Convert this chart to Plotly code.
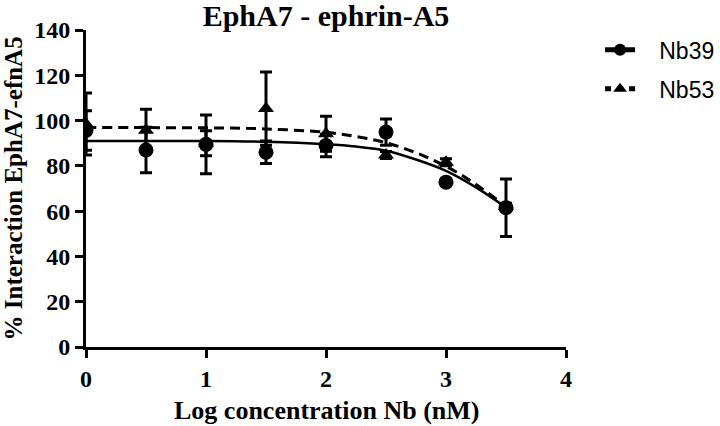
import plotly.graph_objects as go

# Measured points (log concentration Nb, nM)
log_conc = [0, 0.5, 1, 1.5, 2, 2.5, 3, 3.5]
nb39_mean = [95.6, 87.0, 89.5, 86.0, 89.0, 94.9, 72.8, 61.5]
nb39_err = [8.7, 10.0, 13.0, 5.0, 5.0, 5.8, 1.5, 12.7]
nb53_mean = [98.5, 95.7, 90.0, 105.3, 94.2, 84.8, 81.6, 62.0]
nb53_err = [13.7, 9.3, 5.5, 16.2, 7.7, 1.5, 1.5, 1.5]

# Fitted dose-response curves
fit_x = [0, 0.5, 1, 1.5, 2, 2.25, 2.5, 2.75, 3, 3.25, 3.5]
nb39_fit = [91.0, 91.0, 91.0, 90.6, 89.5, 88.5, 86.7, 82.8, 77.8, 70.5, 61.6]
nb53_fit = [97.0, 96.9, 96.8, 96.3, 94.8, 93.0, 90.2, 85.8, 79.8, 71.8, 62.0]

x_ticks = [0, 1, 2, 3, 4]
y_ticks = [0, 20, 40, 60, 80, 100, 120, 140]

serif = "Liberation Serif"
fig = go.Figure()

# fitted curves
fig.add_trace(go.Scatter(x=fit_x, y=nb53_fit, mode="lines", line_shape="spline",
                         line=dict(color="black", width=3, dash="10px,6px"),
                         showlegend=False, hoverinfo="skip"))
fig.add_trace(go.Scatter(x=fit_x, y=nb39_fit, mode="lines", line_shape="spline",
                         line=dict(color="black", width=2.5),
                         showlegend=False, hoverinfo="skip"))

# data points with error bars
fig.add_trace(go.Scatter(x=log_conc, y=nb53_mean, mode="markers",
                         marker=dict(symbol="triangle-up", size=14, color="black"),
                         error_y=dict(type="data", array=nb53_err, color="black",
                                      thickness=3, width=6),
                         showlegend=False))
fig.add_trace(go.Scatter(x=log_conc, y=nb39_mean, mode="markers",
                         marker=dict(symbol="circle", size=15, color="black"),
                         error_y=dict(type="data", array=nb39_err, color="black",
                                      thickness=3, width=6),
                         showlegend=False))

# legend entries
nb = "\u00a0\u00a0\u00a0"
fig.add_trace(go.Scatter(x=[None], y=[None], mode="lines+markers", name=nb + "Nb39",
                         legendgroup="a",
                         line=dict(color="black", width=3),
                         marker=dict(symbol="circle", size=14, color="black")))
fig.add_trace(go.Scatter(x=[None], y=[None], mode="lines+markers", name=nb + "Nb53",
                         legendgroup="b",
                         line=dict(color="black", width=3, dash="6px,6px"),
                         marker=dict(symbol="triangle-up", size=13, color="black")))

fig.update_layout(
    width=720, height=426,
    margin=dict(l=86, r=154, t=30, b=79, autoexpand=False),
    plot_bgcolor="white", paper_bgcolor="white",
    title=dict(text="<b>EphA7 - ephrin-A5</b>", x=326 / 720, xanchor="center",
               y=1 - 15 / 426, yanchor="middle",
               font=dict(family=serif, size=30, color="black")),
    legend=dict(x=1.071, y=1.005, xanchor="left", yanchor="top",
                font=dict(family="Liberation Sans", size=23, color="black"),
                tracegroupgap=6, itemsizing="constant"),
    xaxis=dict(range=[0, 4], tickvals=x_ticks, ticktext=[f"<b>{v}</b>" for v in x_ticks],
               showgrid=False, zeroline=False, showline=True, linecolor="black",
               linewidth=3, ticks="outside", ticklen=8, tickwidth=3, tickcolor="black",
               automargin=False,
               tickfont=dict(family=serif, size=24, color="black")),
    yaxis=dict(range=[0, 140], tickvals=y_ticks, ticktext=[f"<b>{v}</b>" for v in y_ticks],
               showgrid=False, zeroline=False, showline=True, linecolor="black",
               linewidth=3, ticks="outside", ticklen=8, tickwidth=3, tickcolor="black",
               automargin=False,
               tickfont=dict(family=serif, size=24, color="black")),
    annotations=[
        dict(text="<b>Log concentration Nb (nM)</b>", xref="paper", yref="paper",
             x=0.5, y=-63 / 317, xanchor="center", yanchor="middle", showarrow=False,
             font=dict(family=serif, size=26, color="black")),
        dict(text="<b>% Interaction EphA7-efnA5</b>", xref="paper", yref="paper",
             x=-73 / 480, y=0.5, xanchor="center", yanchor="middle", showarrow=False,
             textangle=-90, font=dict(family=serif, size=25, color="black")),
    ],
)

fig.write_html("out.html", config={"displayModeBar": False},
               post_script="document.body.style.margin='0';")
